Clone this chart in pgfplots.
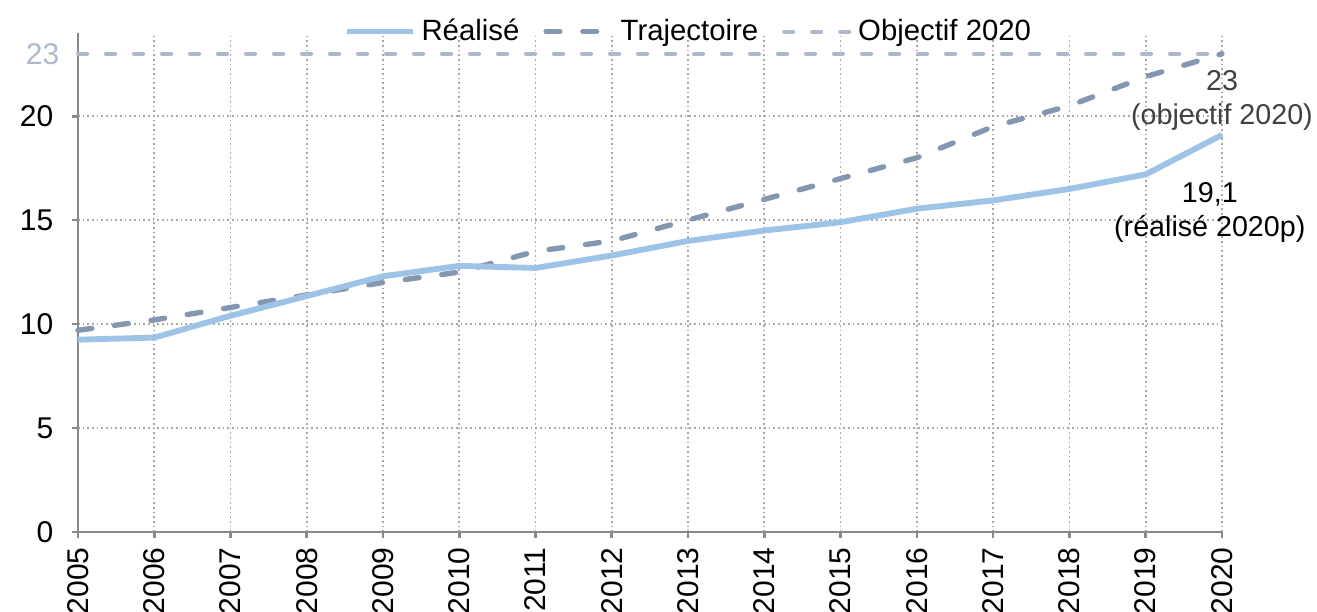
\documentclass[border=0pt]{standalone}
\usepackage{fontspec}
\setmainfont{Liberation Sans}
\usepackage{pgfplots}
\pgfplotsset{compat=1.18}
\definecolor{realise}{HTML}{9DC3E6}
\definecolor{traj}{HTML}{8497B0}
\definecolor{objectif}{HTML}{ADB9CA}
\definecolor{axisgray}{HTML}{898989}
\definecolor{gridgray}{HTML}{A6A6A6}
\definecolor{annot}{HTML}{404040}

\begin{document}
\begin{tikzpicture}
\begin{axis}[
  scale only axis, width=429pt, height=187.125pt,
  xmin=2005, xmax=2020, ymin=0, ymax=24,
  enlargelimits=false, clip=false,
  axis lines=left,
  axis line style={-, draw=axisgray, line width=1pt},
  tick align=outside, major tick length=2.25pt,
  tick style={draw=axisgray, line width=1pt},
  xtick={2005,...,2020}, ytick={0,5,10,15,20},
  grid=major,
  major grid style={draw=gridgray, line width=0.65pt, dash pattern=on 0.65pt off 1.1pt},
  ticklabel style={font=\fontsize{11.25}{13}\selectfont, text=black},
  /pgf/number format/assume math mode=true,
  /pgf/number format/1000 sep={},
  xticklabel style={rotate=90, anchor=east},
  yticklabel style={xshift=-3.5pt},
  extra y ticks={23},
  extra y tick style={major tick length=0pt, grid=none, yticklabel style={text=objectif}},
  reverse legend,
  legend columns=3,
  legend style={at={(0.535,1.003)}, anchor=center, draw=none, fill=none,
    font=\fontsize{11}{13}\selectfont,
    /tikz/every even column/.append style={column sep=7pt}},
  legend image code/.code={\draw[#1] (0pt,0pt) -- (25pt,0pt);},
]
% Objectif 2020
\addplot[color=objectif, line width=1.5pt, line cap=round, dash pattern=on 3.4pt off 7.1pt]
  coordinates {(2005,23) (2020,23)};
\addlegendentry{Objectif 2020}
% Trajectoire
\addplot[color=traj, line width=2pt, line cap=round, dash pattern=on 5.2pt off 8.6pt]
  coordinates {
  (2005,9.7) (2006,10.2) (2007,10.8) (2008,11.4) (2009,12.0) (2010,12.5)
  (2011,13.5) (2012,14.0) (2013,15.0) (2014,16.0) (2015,17.0) (2016,18.0)
  (2017,19.5) (2018,20.5) (2019,21.9) (2020,23.0)};
\addlegendentry{Trajectoire}
% Realise
\addplot[color=realise, line width=2.2pt, line join=round]
  coordinates {
  (2005,9.25) (2006,9.35) (2007,10.4) (2008,11.35) (2009,12.3) (2010,12.8)
  (2011,12.7) (2012,13.3) (2013,14.0) (2014,14.5) (2015,14.9) (2016,15.55)
  (2017,15.95) (2018,16.5) (2019,17.2) (2020,19.1)};
\addlegendentry{Réalisé}

\node[align=center, text=annot, font=\fontsize{10.75}{12.75}\selectfont]
  at (axis cs:2020,20.75) {23\\(objectif 2020)};
\node[align=center, text=black, font=\fontsize{10.75}{12.75}\selectfont]
  at (axis cs:2019.84,15.35) {19,1\\(réalisé 2020p)};
\end{axis}
\pgfresetboundingbox
\path (-29.25pt,-29.625pt) rectangle (464.625pt,199.5pt);
\end{tikzpicture}
\end{document}
